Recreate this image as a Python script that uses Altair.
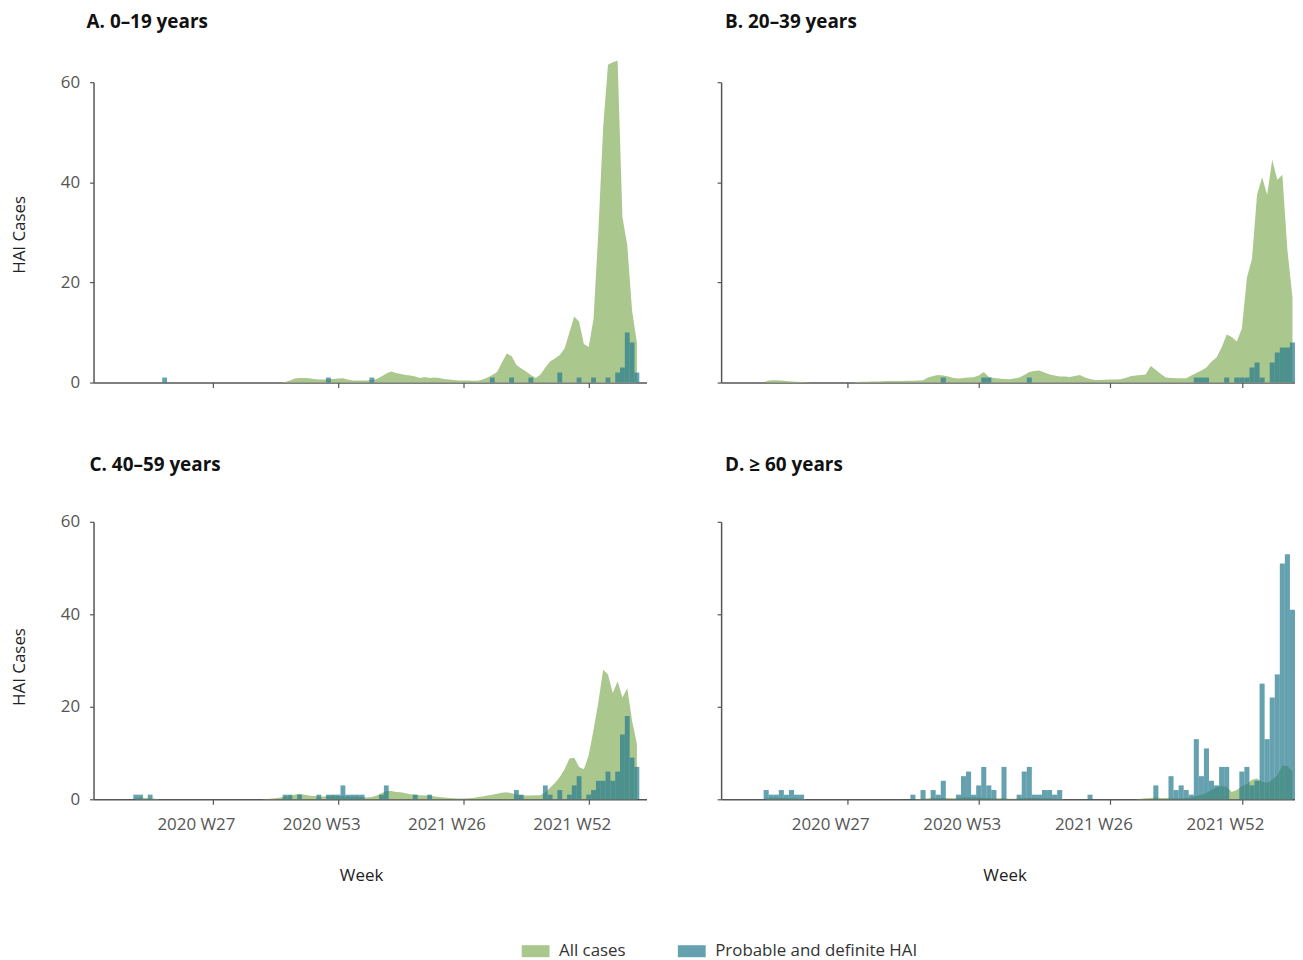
import altair as alt
import pandas as pd

# ---------------- data ----------------
# week index: 0 = 2020 W1 (2020 has 53 ISO weeks); data run from 2020 W11 to 2022 W10
weeks = list(range(10, 115))
tick_values = [26, 52, 78, 104]
tick_labels = ["2020 W27", "2020 W53", "2021 W26", "2021 W52"]

series_names = ["All cases", "Probable and definite HAI"]
legend_colors = ["#aac78e", "#66a1b0"]
bar_color = "#277a90"
bar_opacity = 0.71

panel_titles = ["A. 0–19 years", "B. 20–39 years", "C. 40–59 years", "D. ≥ 60 years"]

# All cases per week (t = 10 ... 114)
all_a = [0, 0, 0, 0, 0, 0, 0, 0, 0, 0,
         0, 0, 0, 0, 0, 0, 0, 0, 0, 0,
         0, 0, 0, 0, 0, 0, 0, 0, 0, 0,
         0, 0.1, 0.4, 0.8, 0.9, 0.9, 0.85, 0.7, 0.6, 0.6,
         0.65, 0.7, 0.8, 0.85, 0.6, 0.4, 0.4, 0.4, 0.4, 0.5,
         0.7, 1.2, 1.8, 2.2, 1.9, 1.7, 1.5, 1.4, 1.2, 0.9,
         1.1, 0.9, 1.0, 0.9, 0.7, 0.6, 0.5, 0.4, 0.4, 0.4,
         0.35, 0.35, 0.6, 1.0, 1.5, 2.1, 4.0, 5.8, 5.3, 3.5,
         2.8, 2.2, 1.5, 0.9, 1.6, 3.0, 4.2, 4.8, 5.5, 6.8,
         10, 13.2, 12.2, 7.7, 7.1, 12.7, 30, 51, 63.5, 64,
         64.3, 33, 27.5, 14.4, 8]
all_b = [0.3, 0.45, 0.45, 0.4, 0.3, 0.2, 0.15, 0.1, 0.05, 0,
         0, 0, 0, 0, 0, 0, 0, 0, 0.1, 0.15,
         0.15, 0.2, 0.2, 0.25, 0.3, 0.3, 0.3, 0.3, 0.35, 0.35,
         0.4, 0.45, 1.0, 1.3, 1.5, 1.4, 1.2, 0.9, 0.8, 0.9,
         1.0, 1.05, 1.4, 2.1, 1.1, 0.9, 0.8, 0.7, 0.65, 0.8,
         1.0, 1.5, 2.1, 2.3, 2.4, 2.0, 1.6, 1.4, 1.2, 1.2,
         1.1, 1.3, 1.5, 1.0, 0.7, 0.5, 0.5, 0.55, 0.6, 0.6,
         0.65, 0.9, 1.25, 1.4, 1.5, 1.6, 3.3, 2.5, 1.7, 1.0,
         0.9, 0.85, 0.85, 0.85, 1.4, 1.9, 2.4, 3.0, 4.2, 5.0,
         7.0, 9.6, 9.1, 8.2, 10.8, 21, 24.7, 37.5, 41, 37.5,
         44.5, 40.5, 41.5, 26.5, 17]
all_c = [0.3, 0.4, 0.3, 0.2, 0.1, 0, 0, 0, 0, 0,
         0, 0, 0, 0, 0, 0, 0, 0, 0, 0,
         0, 0, 0, 0, 0, 0, 0, 0.05, 0.1, 0.2,
         0.4, 0.6, 0.8, 1.0, 1.2, 1.0, 0.8, 0.7, 0.6, 0.6,
         0.7, 0.8, 0.7, 0.7, 0.6, 0.6, 0.6, 0.5, 0.4, 0.5,
         0.8, 1.3, 1.8, 1.8, 1.6, 1.5, 1.3, 1.1, 1.0, 0.9,
         0.8, 0.8, 0.6, 0.5, 0.4, 0.3, 0.2, 0.15, 0.15, 0.2,
         0.3, 0.5, 0.6, 0.8, 1.0, 1.2, 1.4, 1.5, 1.3, 1.1,
         0.9, 0.8, 0.8, 0.9, 0.9, 1.5, 2.5, 3.5, 4.8, 6.5,
         8.8, 9.0, 7.0, 6.5, 9.5, 15, 21, 28, 27, 23,
         25.5, 22, 24, 17, 12]
all_d = [0.3, 0.4, 0.4, 0.3, 0.3, 0.2, 0.2, 0.1, 0, 0,
         0, 0, 0, 0, 0, 0, 0, 0, 0, 0,
         0, 0, 0, 0, 0, 0, 0, 0, 0, 0,
         0.05, 0.1, 0.2, 0.3, 0.3, 0.3, 0.3, 0.2, 0.3, 0.4,
         0.4, 0.4, 0.4, 0.3, 0.3, 0.2, 0.2, 0.2, 0.1, 0.1,
         0.2, 0.3, 0.3, 0.3, 0.2, 0.2, 0.2, 0.1, 0.1, 0,
         0, 0, 0, 0, 0, 0, 0, 0, 0, 0,
         0, 0, 0, 0, 0.1, 0.2, 0.3, 0.4, 0.3, 0.3,
         0.2, 0.2, 0.2, 0.3, 0.4, 0.7, 1.0, 1.4, 2.0, 2.6,
         2.9, 2.7, 1.6, 2.0, 2.8, 3.3, 4.2, 4.5, 3.8, 3.6,
         4.2, 5.2, 7.3, 7.2, 6.0]

# Probable and definite HAI per week (week index: cases)
hai_a = {16: 1, 50: 1, 59: 1, 84: 1, 88: 1, 92: 1, 98: 2, 102: 1, 105: 1,
         108: 1, 110: 2, 111: 3, 112: 10, 113: 8, 114: 2}
hai_b = {45: 1, 53: 1, 54: 1, 62: 1, 95: 1, 96: 1, 97: 1, 101: 1, 103: 1,
         104: 1, 105: 1, 106: 3, 107: 4, 108: 1, 110: 4, 111: 6, 112: 7,
         113: 7, 114: 8}
hai_c = {10: 1, 11: 1, 13: 1, 41: 1, 42: 1, 44: 1, 48: 1, 50: 1, 51: 1,
         52: 1, 53: 3, 54: 1, 55: 1, 56: 1, 57: 1, 61: 1, 62: 3, 68: 1, 71: 1,
         89: 2, 90: 1, 95: 3, 96: 1, 98: 2, 100: 1, 101: 3, 102: 5, 104: 1,
         105: 2, 106: 4, 107: 4, 108: 6, 109: 4, 110: 6, 111: 14, 112: 18,
         113: 9, 114: 7}
hai_d = {10: 2, 11: 1, 12: 1, 13: 2, 14: 1, 15: 2, 16: 1, 17: 1, 39: 1,
         41: 2, 43: 2, 44: 1, 45: 4, 48: 1, 49: 5, 50: 6, 51: 1, 52: 3, 53: 7,
         54: 3, 55: 2, 57: 7, 60: 1, 61: 6, 62: 7, 63: 1, 64: 1, 65: 2, 66: 2,
         67: 1, 68: 2, 74: 1, 87: 3, 90: 5, 91: 2, 92: 3, 93: 2, 94: 1, 95: 13,
         96: 5, 97: 11, 98: 4, 99: 3, 100: 7, 101: 7, 104: 6, 105: 7, 106: 3,
         107: 4, 108: 25, 109: 13, 110: 22, 111: 27, 112: 51, 113: 53, 114: 41}


def make_frame(all_vals, hai):
    assert len(all_vals) == len(weeks)
    rows = [dict(t=t, value=v, series=series_names[0]) for t, v in zip(weeks, all_vals)]
    rows += [dict(t=t, value=v, series=series_names[1]) for t, v in hai.items()]
    return pd.DataFrame(rows)


# ---------------- styling ----------------
FONT = "Open Sans"
AX = "#555555"
label_expr = " : ".join(
    f"datum.value == {v} ? '{l}'" for v, l in zip(tick_values, tick_labels)
) + " : ''"

legend = alt.Legend(
    title=None, orient="none", legendX=436, legendY=865, direction="horizontal",
    symbolType="M-2,-0.86H2V0.86H-2Z", symbolSize=196, symbolStrokeWidth=0,
    symbolOpacity=1, labelFontSize=17, labelFont=FONT, labelColor="#333333",
    labelOffset=15, labelLimit=0, columnPadding=51, padding=0,
)
color = alt.Color("series:N", scale=alt.Scale(domain=series_names, range=legend_colors),
                  legend=legend)


def panel(df, title, title_dx, title_offset, width, height, domain, left, bottom,
          week_x, ytitle_shift):
    xkw = dict(values=tick_values, labelExpr=label_expr, labels=bottom, grid=False,
               tickSize=5, tickColor=AX, tickWidth=1.2, domainColor=AX, domainWidth=1.5,
               labelFontSize=17, labelColor=AX, labelPadding=12, labelOffset=-17,
               labelFont=FONT)
    if bottom:
        xkw.update(title="Week", titleFontSize=17, titleFontWeight="normal",
                   titleColor="#222222", titlePadding=36, titleX=week_x, titleFont=FONT)
    else:
        xkw.update(title=None)
    ykw = dict(values=[0, 20, 40, 60], labels=left, grid=False, tickSize=4,
               tickColor=AX, tickWidth=1.2, domainColor=AX, domainWidth=1.5,
               labelFontSize=17, labelColor=AX, labelPadding=10, labelFont=FONT)
    if left:
        ykw.update(title="HAI Cases", titleFontSize=17, titleFontWeight="normal",
                   titleColor="#222222", titlePadding=32, titleFont=FONT,
                   titleY=height / 2 + ytitle_shift)
    else:
        ykw.update(title=None)
    xscale = alt.Scale(domain=domain, nice=False, zero=False)
    yscale = alt.Scale(domain=[0, 60], nice=False)

    area = alt.Chart(df).transform_filter(
        alt.datum.series == series_names[0]
    ).mark_area(interpolate="linear").encode(
        x=alt.X("t:Q", scale=xscale, axis=alt.Axis(**xkw)),
        y=alt.Y("value:Q", scale=yscale, axis=alt.Axis(**ykw)),
        color=color,
    )
    bars = alt.Chart(df).transform_filter(
        alt.datum.series == series_names[1]
    ).transform_calculate(
        t0="datum.t - 0.5", t1="datum.t + 0.5", zero="0"
    ).mark_rect(color=bar_color, opacity=bar_opacity).encode(
        x=alt.X("t0:Q", scale=xscale, axis=alt.Axis(**xkw)),
        x2="t1:Q",
        y=alt.Y("value:Q", scale=yscale, axis=alt.Axis(**ykw)),
        y2="zero:Q",
    )
    return alt.layer(area, bars).properties(
        width=width, height=height,
        title=alt.TitleParams(title, anchor="start", frame="group", baseline="alphabetic",
                              offset=title_offset, dx=title_dx, fontSize=19,
                              fontWeight="bold", font=FONT, color="#111111"),
    )


dom_left = [1.25, 116]
dom_right = [1.1, 114.5]
pa = panel(make_frame(all_a, hai_a), panel_titles[0], -7, 14, 556, 302, dom_left,
           True, False, 0, 2)
pb = panel(make_frame(all_b, hai_b), panel_titles[1], 4, 34.5, 577, 302, dom_right,
           False, False, 0, 0)
pc = panel(make_frame(all_c, hai_c), panel_titles[2], -4, 23, 556, 279, dom_left,
           True, True, 269, 6)
pd_ = panel(make_frame(all_d, hai_d), panel_titles[3], 4, 31, 577, 279, dom_right,
            False, True, 285, 0)

row1 = alt.hconcat(pa, pb, spacing=70)
row2 = alt.hconcat(pc, pd_, spacing=70)
chart = alt.vconcat(row1, row2, spacing=66).resolve_scale(
    color="shared"
).properties(
    padding={"left": 2, "top": 2, "right": 0, "bottom": 0}
).configure(font=FONT).configure_view(stroke=None)

chart.save("out.html", embed_options={"renderer": "svg", "actions": False})
